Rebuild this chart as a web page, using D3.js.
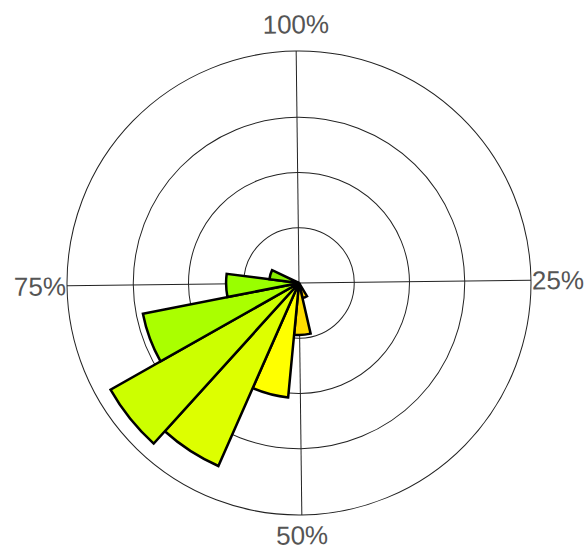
<!DOCTYPE html>
<html>
<head>
<meta charset="utf-8">
<script src="https://cdn.jsdelivr.net/npm/d3@7"></script>
<style>
  body { margin: 0; background: #fff; }
  svg { display: block; }
</style>
</head>
<body>
<div id="chart"></div>
<script>
// bins (start of each bin, in %), bin width in %, radial values
var binStart = [41.5, 46.6, 51.7, 56.8, 61.9, 67.0, 72.1, 77.2];
var binWidth = 5.1;
var values = [1.4, 4.7, 10.4, 18.1, 19.6, 14.4, 6.6, 2.7];
var colors = ["#ffcc00", "#ffdd00", "#ffff00", "#ddff00", "#ccff00", "#aaff00", "#99ff00", "#88ee00"];
var ringTicks = [5, 10, 15];
var rMax = 21;
var angleTicks = [0, 25, 50, 75];
var angleLabels = ["100%", "25%", "50%", "75%"];

var w = 585;
var h = 555;
var cx = 299, cy = 283;
var outerR = 232;

var svg = d3.select("#chart")
            .append("svg")
            .attr("width", w)
            .attr("height", h);

var g = svg.append("g")
           .attr("transform", "translate(" + cx + "," + cy + ") rotate(-0.7)");

var x = d3.scaleLinear().domain([0, 100]).range([0, 2 * Math.PI]);
var y = d3.scaleLinear().domain([0, rMax]).range([0, outerR]);

// rings
g.selectAll("circle.ring")
 .data(ringTicks.concat([rMax]))
 .enter()
 .append("circle")
 .attr("class", "ring")
 .attr("r", function(d) { return y(d); })
 .attr("fill", "none")
 .attr("stroke", "#222")
 .attr("stroke-width", 1);

// spokes
g.selectAll("line.spoke")
 .data(angleTicks)
 .enter()
 .append("line")
 .attr("class", "spoke")
 .attr("x1", 0)
 .attr("y1", 0)
 .attr("x2", function(d) { return Math.sin(x(d)) * outerR; })
 .attr("y2", function(d) { return -Math.cos(x(d)) * outerR; })
 .attr("stroke", "#222")
 .attr("stroke-width", 1);

// bars
var arc = d3.arc()
            .innerRadius(0)
            .outerRadius(function(d, i) { return y(values[i]); })
            .startAngle(function(d) { return x(d); })
            .endAngle(function(d) { return x(d + binWidth); });

g.selectAll("path.bar")
 .data(binStart)
 .enter()
 .append("path")
 .attr("class", "bar")
 .attr("d", function(d, i) { return arc(d, i); })
 .attr("fill", function(d, i) { return colors[i]; })
 .attr("stroke", "#000")
 .attr("stroke-width", 2.5)
 .attr("stroke-linejoin", "miter");

// angle labels (bottom one pulled in a bit so it stays inside)
var labelR = function(d) { return d === 50 ? 252 : 259; };

g.selectAll("text.lab")
 .data(angleTicks)
 .enter()
 .append("text")
 .attr("class", "lab")
 .attr("x", function(d) { return Math.sin(x(d)) * labelR(d); })
 .attr("y", function(d) { return -Math.cos(x(d)) * labelR(d); })
 .attr("dy", "0.36em")
 .attr("text-anchor", "middle")
 .attr("font-family", "'Liberation Sans', Arial, sans-serif")
 .attr("font-size", "26px")
 .attr("fill", "#555")
 .text(function(d, i) { return angleLabels[i]; });
</script>
</body>
</html>
